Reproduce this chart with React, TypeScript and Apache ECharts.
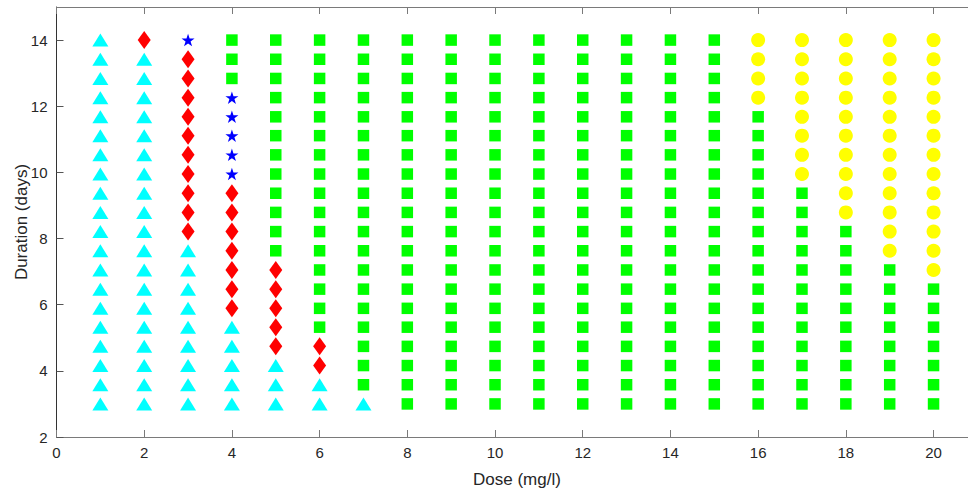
import { useEffect, useRef } from "react";
import * as echarts from "echarts";

// Dose levels tested (mg/l)
const doses = [1, 2, 3, 4, 5, 6, 7, 8, 9, 10, 11, 12, 13, 14, 15, 16, 17, 18, 19, 20];

// Exposure durations (days), shared by every dose column
const durations = [
  3, 3.58, 4.16, 4.74, 5.32, 5.89, 6.47, 7.05, 7.63, 8.21,
  8.79, 9.37, 9.95, 10.53, 11.11, 11.68, 12.26, 12.84, 13.42, 14,
];

// Outcome class for each dose column, listed from the shortest to the longest duration.
// T = triangle, D = diamond, S = star, Q = square, C = circle
const outcomeByDose = [
  "TTTTTTTTTTTTTTTTTTTT",
  "TTTTTTTTTTTTTTTTTTTD",
  "TTTTTTTTTDDDDDDDDDDS",
  "TTTTTDDDDDDDSSSSSQQQ",
  "TTTDDDDDQQQQQQQQQQQQ",
  "TTDDQQQQQQQQQQQQQQQQ",
  "TQQQQQQQQQQQQQQQQQQQ",
  "QQQQQQQQQQQQQQQQQQQQ",
  "QQQQQQQQQQQQQQQQQQQQ",
  "QQQQQQQQQQQQQQQQQQQQ",
  "QQQQQQQQQQQQQQQQQQQQ",
  "QQQQQQQQQQQQQQQQQQQQ",
  "QQQQQQQQQQQQQQQQQQQQ",
  "QQQQQQQQQQQQQQQQQQQQ",
  "QQQQQQQQQQQQQQQQQQQQ",
  "QQQQQQQQQQQQQQQQCCCC",
  "QQQQQQQQQQQQCCCCCCCC",
  "QQQQQQQQQQCCCCCCCCCC",
  "QQQQQQQQCCCCCCCCCCCC",
  "QQQQQQQCCCCCCCCCCCCC",
];

// Axis ticks
const xTicks = { min: 0, max: 21, interval: 2 };
const yTicks = { min: 2, max: 15, interval: 2 };

const STAR =
  "path://M50,0 L61.8,35.1 L98.9,35.1 L68.9,56.8 L80.3,91.9 L50,70.2 L19.7,91.9 L31.1,56.8 L1.1,35.1 L38.2,35.1 Z";

const markerStyles: Record<string, { symbol: string; size: number[]; color: string }> = {
  T: { symbol: "triangle", size: [16, 13], color: "#00FFFF" },
  D: { symbol: "diamond", size: [13, 18], color: "#FF0000" },
  S: { symbol: STAR, size: [13, 12.5], color: "#0000FF" },
  Q: { symbol: "rect", size: [11.5, 11.5], color: "#00FF00" },
  C: { symbol: "circle", size: [14, 14], color: "#FFFF00" },
};

function pointsFor(code: string): number[][] {
  const pts: number[][] = [];
  outcomeByDose.forEach((col, i) => {
    for (let j = 0; j < col.length; j++) {
      if (col[j] === code) pts.push([doses[i], durations[j]]);
    }
  });
  return pts;
}

const FONT = "'Liberation Sans', Arial, Helvetica, sans-serif";
const TEXT = "#262626";

export default function App() {
  const ref = useRef<HTMLDivElement>(null);

  useEffect(() => {
    if (!ref.current) return;
    const chart = echarts.init(ref.current, undefined, { renderer: "svg" });

    const series = ["T", "D", "S", "Q", "C"].map((code) => ({
      type: "scatter",
      name: code,
      data: pointsFor(code),
      symbol: markerStyles[code].symbol,
      symbolSize: markerStyles[code].size,
      itemStyle: { color: markerStyles[code].color, opacity: 1 },
      xAxisIndex: 0,
      yAxisIndex: 0,
    }));

    chart.setOption({
      animation: false,
      backgroundColor: "#ffffff",
      grid: {
        left: 56.5,
        right: -9.4,
        top: 7,
        bottom: 54,
        containLabel: false,
        outerBoundsMode: "none",
      },
      xAxis: [
        {
          type: "value",
          min: xTicks.min,
          max: xTicks.max,
          interval: xTicks.interval,
          position: "bottom",
          name: "Dose (mg/l)",
          nameLocation: "middle",
          nameGap: 34,
          nameMoveOverlap: false,
          nameTextStyle: { fontFamily: FONT, fontSize: 17, color: TEXT },
          axisLine: { show: true, onZero: false, lineStyle: { color: "#7a7a7a", width: 1 } },
          axisTick: { show: true, inside: true, length: 7, lineStyle: { color: "#7a7a7a" } },
          axisLabel: {
            fontFamily: FONT,
            fontSize: 15,
            color: TEXT,
            margin: 8,
            showMaxLabel: false,
          },
          splitLine: { show: false },
        },
        {
          type: "value",
          min: xTicks.min,
          max: xTicks.max,
          interval: xTicks.interval,
          position: "top",
          axisLine: { show: true, onZero: false, lineStyle: { color: "#7a7a7a", width: 1 } },
          axisTick: { show: true, inside: true, length: 7, lineStyle: { color: "#7a7a7a" } },
          axisLabel: { show: false },
          splitLine: { show: false },
        },
      ],
      yAxis: [
        {
          type: "value",
          min: yTicks.min,
          max: yTicks.max,
          interval: yTicks.interval,
          position: "left",
          name: "Duration (days)",
          nameLocation: "middle",
          nameGap: 27,
          nameMoveOverlap: false,
          nameTextStyle: { fontFamily: FONT, fontSize: 17, color: TEXT },
          axisLine: { show: true, onZero: false, lineStyle: { color: "#333333", width: 1 } },
          axisTick: { show: true, inside: true, length: 7, lineStyle: { color: "#555555" } },
          axisLabel: {
            fontFamily: FONT,
            fontSize: 15,
            color: TEXT,
            margin: 9,
            showMaxLabel: false,
          },
          splitLine: { show: false },
        },
        {
          type: "value",
          min: yTicks.min,
          max: yTicks.max,
          interval: yTicks.interval,
          position: "right",
          axisLine: { show: true, onZero: false, lineStyle: { color: "#333333", width: 1 } },
          axisTick: { show: true, inside: true, length: 7 },
          axisLabel: { show: false },
          splitLine: { show: false },
        },
      ],
      series,
    });

    return () => chart.dispose();
  }, []);

  return (
    <div
      ref={ref}
      style={{ position: "fixed", left: 0, top: 0, width: 968, height: 491 }}
    />
  );
}
